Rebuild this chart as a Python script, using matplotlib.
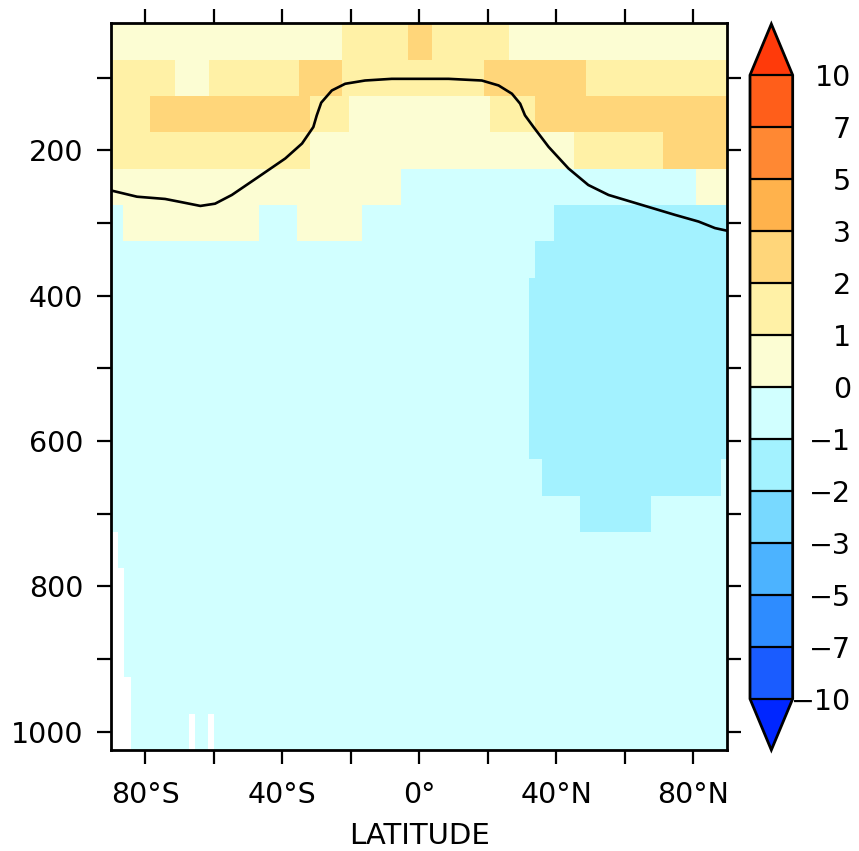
import numpy as np
import matplotlib
matplotlib.use("Agg")
import matplotlib.pyplot as plt
import matplotlib.ticker as ticker
from matplotlib.colors import ListedColormap, BoundaryNorm

# contour levels and colours (under, 12 boxes, over)
LEVELS = [-10, -7, -5, -3, -2, -1, 0, 1, 2, 3, 5, 7, 10]
COLORS = ['#1A5CFF', '#2E8CFF', '#4CB3FF', '#78D9FF', '#A3F2FF', '#D1FFFF',
          '#FCFDD3', '#FFF1A6', '#FFD67A', '#FFB24C', '#FF8833', '#FF5E1A']
UNDER, OVER = '#0026FF', '#FF3A0A'

# pressure levels (hPa), 50 hPa spacing
PLEV = [50, 100, 150, 200, 250, 300, 350, 400, 450, 500,
        550, 600, 650, 700, 750, 800, 850, 900, 950, 1000]

# each row: (latitude where the segment ends, value) read from left (-90) to right
NAN = np.nan
ROWS = {
    50:  [(-22.5, 0.5), (-3.4, 1.5), (3.7, 2.5), (26.3, 1.5), (90, 0.5)],
    100: [(-71.2, 1.5), (-61.5, 0.5), (-35.2, 1.5), (-22.5, 2.5), (19.0, 1.5), (48.8, 2.5), (90, 1.5)],
    150: [(-78.5, 1.5), (-31.8, 2.5), (-20.5, 1.5), (20.8, 0.5), (33.9, 1.5), (90, 2.5)],
    200: [(-31.8, 1.5), (45.3, 0.5), (71.3, 1.5), (90, 2.5)],
    250: [(-5.4, 0.5), (81.0, -0.5), (90, 0.5)],
    300: [(-86.6, -0.5), (-46.7, 0.5), (-35.6, -0.5), (-16.6, 0.5), (39.4, -0.5), (90, -1.5)],
    350: [(33.9, -0.5), (90, -1.5)],
    400: [(32.1, -0.5), (90, -1.5)],
    450: [(32.1, -0.5), (90, -1.5)],
    500: [(32.1, -0.5), (90, -1.5)],
    550: [(32.1, -0.5), (90, -1.5)],
    600: [(32.1, -0.5), (90, -1.5)],
    650: [(35.9, -0.5), (88.2, -1.5), (90, -0.5)],
    700: [(47.0, -0.5), (67.7, -1.5), (90, -0.5)],
    750: [(-88.0, NAN), (90, -0.5)],
    800: [(-86.1, NAN), (90, -0.5)],
    850: [(-86.1, NAN), (90, -0.5)],
    900: [(-86.1, NAN), (90, -0.5)],
    950: [(-84.2, NAN), (90, -0.5)],
    1000: [(-84.2, NAN), (-67.2, -0.5), (-65.5, NAN), (-61.6, -0.5), (-59.9, NAN), (90, -0.5)],
}

# tropopause line
TROP_LAT = [-90, -82.4, -74.2, -69.3, -63.9, -59.6, -54.7, -46.9, -39.1, -34.2,
            -30.9, -29.9, -28.6, -25.5, -21.6, -15.8, -8.0, 1.8, 8.6, 18.3,
            23.2, 27.1, 29.5, 30.9, 33.4, 37.8, 43.6, 49.4, 55.3, 65.0,
            74.7, 81.6, 86.4, 90]
TROP_P = [255, 263.6, 266.7, 271.2, 276.3, 273.2, 261.2, 236.2, 211, 190.4,
          167.7, 151.6, 134.2, 117.4, 108.2, 103.7, 101.4, 101.4, 101.4, 103.7,
          110.5, 121.9, 135.6, 151.6, 167.7, 195, 224.7, 247.5, 261.2, 274.9,
          288.6, 297.8, 306.8, 310.5]


def build_field():
    edges = {-90.0, 90.0}
    for segs in ROWS.values():
        for e, v in segs:
            edges.add(float(e))
    lat_edges = np.array(sorted(edges))
    centers = 0.5 * (lat_edges[:-1] + lat_edges[1:])
    z = np.full((len(PLEV), len(centers)), np.nan)
    for i, p in enumerate(PLEV):
        segs = ROWS[p]
        for j, c in enumerate(centers):
            for e, v in segs:
                if c < e:
                    z[i, j] = v
                    break
    p_edges = np.array([PLEV[0] - 25] + [p + 25 for p in PLEV])
    return lat_edges, p_edges, np.ma.masked_invalid(z)


lat_edges, p_edges, z = build_field()

cmap = ListedColormap(COLORS)
cmap.set_under(UNDER)
cmap.set_over(OVER)
cmap.set_bad('white')
norm = BoundaryNorm(LEVELS, cmap.N)

FS = 20.5
plt.rcParams['font.family'] = 'DejaVu Sans'
fig = plt.figure(figsize=(8.59, 8.51), dpi=100)
ax = fig.add_axes([0.1292, 0.1187, 0.7175, 0.8539])

mesh = ax.pcolormesh(lat_edges, p_edges, z, cmap=cmap, norm=norm, shading='flat')
ax.plot(TROP_LAT, TROP_P, color='black', lw=1.9, solid_joinstyle='round')

ax.set_xlim(-90, 90)
ax.set_ylim(1025, 25)

ax.xaxis.set_major_locator(ticker.FixedLocator([-80, -40, 0, 40, 80]))
ax.xaxis.set_minor_locator(ticker.FixedLocator([-60, -20, 20, 60]))
ax.set_xticklabels(['80°S', '40°S', '0°', '40°N', '80°N'])
ax.yaxis.set_major_locator(ticker.FixedLocator([200, 400, 600, 800, 1000]))
ax.yaxis.set_minor_locator(ticker.FixedLocator([100, 300, 500, 700, 900]))
ax.set_yticklabels(['200', '400', '600', '800', '1000'])

for which in ('major', 'minor'):
    ax.tick_params(which=which, direction='out', length=10, width=1.6,
                   top=True, right=True, labelsize=FS)
ax.tick_params(axis='y', pad=10)
ax.tick_params(axis='x', pad=12)
for s in ax.spines.values():
    s.set_linewidth(2)

ax.set_xlabel('LATITUDE', fontsize=21, labelpad=10)

# colorbar with triangles
cax = fig.add_axes([0.8731, 0.1187, 0.0497, 0.8531])
cb = fig.colorbar(mesh, cax=cax, extend='both', extendfrac=0.082,
                  drawedges=True, ticks=LEVELS)
cb.outline.set_linewidth(2)
cb.dividers.set_linewidth(1.6)
cb.dividers.set_color('black')
cax.tick_params(length=0, pad=42, labelsize=FS)
cax.set_yticklabels([f'{v}'.replace('-', '\u2212') for v in LEVELS])
for lab in cax.get_yticklabels():
    lab.set_ha('right')

fig.savefig('out.png', dpi=100)
